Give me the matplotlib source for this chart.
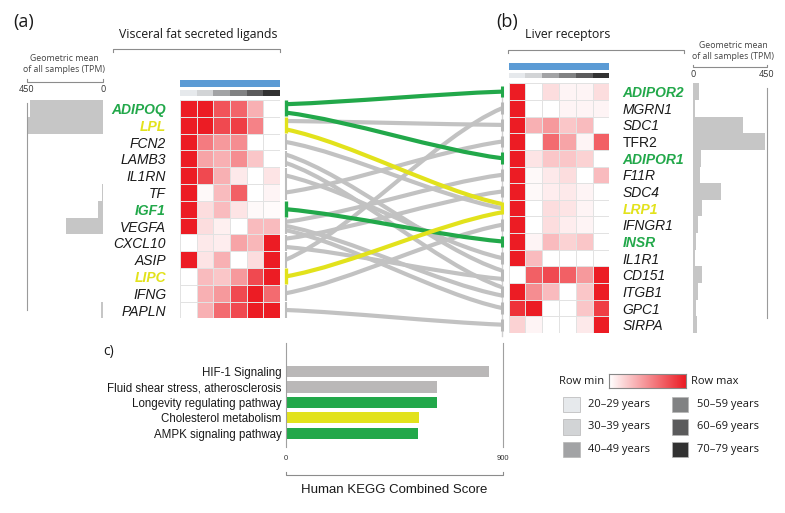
import numpy as np
import matplotlib
matplotlib.use('Agg')
import matplotlib.pyplot as plt
from matplotlib.colors import LinearSegmentedColormap, ListedColormap
from matplotlib.path import Path
from matplotlib.patches import PathPatch, Rectangle
from matplotlib.lines import Line2D

plt.rcParams['font.family'] = ['Liberation Sans', 'DejaVu Sans']

# ---------------- data ----------------
ligands = ['ADIPOQ', 'LPL', 'FCN2', 'LAMB3', 'IL1RN', 'TF', 'IGF1', 'VEGFA',
           'CXCL10', 'ASIP', 'LIPC', 'IFNG', 'PAPLN']
receptors = ['ADIPOR2', 'MGRN1', 'SDC1', 'TFR2', 'ADIPOR1', 'F11R', 'SDC4', 'LRP1',
             'IFNGR1', 'INSR', 'IL1R1', 'CD151', 'ITGB1', 'GPC1', 'SIRPA']

ligand_heat = [
    [1, 1, 0.75, 0.68, 0.35, 0],
    [1, 1, 0.8, 0.85, 0.55, 0],
    [1, 0.58, 0.45, 0.5, 0, 0],
    [1, 0.4, 0.35, 0.5, 0.25, 0],
    [1, 0.8, 0.35, 0.1, 0, 0.12],
    [1, 0.03, 0.3, 0.7, 0, 0.05],
    [1, 0.15, 0.3, 0.12, 0.03, 0.02],
    [1, 0.15, 0.07, 0, 0.3, 0.3],
    [0, 0.1, 0.08, 0.4, 0.32, 1],
    [1, 0.12, 0.35, 0, 0.15, 1],
    [0, 0.3, 0.25, 0.45, 0.8, 1],
    [0, 0.35, 0.45, 0.8, 1, 0.65],
    [0, 0.35, 0.65, 0.8, 1, 1],
]
receptor_heat = [
    [1, 0, 0.15, 0.05, 0.05, 0.15],
    [1, 0, 0, 0.05, 0.05, 0.05],
    [1, 0.35, 0.45, 0.25, 0.3, 0],
    [1, 0, 0.65, 0.4, 0.05, 0.7],
    [1, 0.12, 0.25, 0.25, 0.2, 0],
    [1, 0.03, 0.1, 0.15, 0, 0.3],
    [1, 0.03, 0.08, 0.1, 0.05, 0],
    [1, 0, 0.15, 0.12, 0.05, 0],
    [1, 0, 0.15, 0.08, 0.05, 0],
    [1, 0.05, 0.3, 0.2, 0.25, 0],
    [1, 0.3, 0, 0, 0, 0],
    [0, 0.7, 0.8, 0.7, 0.45, 1],
    [1, 0.5, 0.3, 0, 0.25, 1],
    [0.9, 1, 0, 0, 0.25, 0.85],
    [0.2, 0.05, 0, 0, 0.1, 1],
]

ligand_tpm = [432, 450, 0, 0, 0, 8, 30, 220, 0, 0, 0, 0, 14]
receptor_tpm = [36, 12, 304, 438, 49, 43, 170, 55, 30, 18, 12, 53, 28, 16, 22]

pairs = [('ADIPOQ', 'ADIPOR2'), ('ADIPOQ', 'ADIPOR1'), ('LPL', 'SDC1'), ('LPL', 'LRP1'),
         ('FCN2', 'LRP1'), ('LAMB3', 'CD151'), ('LAMB3', 'ITGB1'), ('IL1RN', 'IL1R1'),
         ('TF', 'TFR2'), ('IGF1', 'INSR'), ('VEGFA', 'F11R'), ('VEGFA', 'ITGB1'),
         ('VEGFA', 'GPC1'), ('CXCL10', 'SDC4'), ('CXCL10', 'CD151'), ('ASIP', 'MGRN1'),
         ('LIPC', 'LRP1'), ('IFNG', 'IFNGR1'), ('PAPLN', 'SIRPA')]

age_groups = ['20\u201329 years', '30\u201339 years', '40\u201349 years',
              '50\u201359 years', '60\u201369 years', '70\u201379 years']

kegg_terms = ['HIF-1 Signaling', 'Fluid shear stress, atherosclerosis',
              'Longevity regulating pathway', 'Cholesterol metabolism', 'AMPK signaling pathway']
kegg_scores = [842, 627, 625, 550, 547]

GREEN = '#22a84a'
YELLOW = '#e2e21c'
GRAY = '#c2c2c2'
highlight = {'ADIPOQ': GREEN, 'LPL': YELLOW, 'IGF1': GREEN, 'LIPC': YELLOW,
             'ADIPOR2': GREEN, 'ADIPOR1': GREEN, 'LRP1': YELLOW, 'INSR': GREEN}
kegg_colors = ['#bab8b8', '#bab8b8', GREEN, YELLOW, GREEN]
age_colors = ['#e6e9ec', '#d2d4d6', '#a2a3a5', '#818283', '#5b5b5c', '#323232']

# ---------------- layout helpers ----------------
W, H = 785, 513
fig = plt.figure(figsize=(W / 100, H / 100), dpi=100)


def box(x0, y0, x1, y1):
    return [x0 / W, 1 - y1 / H, (x1 - x0) / W, (y1 - y0) / H]


def ftext(x, y, s, **kw):
    fig.text(x / W, 1 - y / H, s, **kw)


def bracket(x0, x1, y, d):
    xs = [x0 / W, x0 / W, x1 / W, x1 / W]
    ys = [1 - (y + d) / H, 1 - y / H, 1 - y / H, 1 - (y + d) / H]
    fig.add_artist(Line2D(xs, ys, color='#8c8c8c', lw=0.8))


cmap = LinearSegmentedColormap.from_list('rowscale', ['#ffffff', '#ec1c24'])
SANS = ['Open Sans', 'DejaVu Sans']


def heatmap(rect, data, labels, right):
    ax = fig.add_axes(rect)
    ax.pcolormesh(np.array(data), cmap=cmap, vmin=0, vmax=1,
                  edgecolors='#e2e2e2', linewidth=0.5)
    ax.set_xlim(0, 6)
    ax.set_ylim(len(labels), 0)
    ax.set_xticks([])
    ax.set_yticks(np.arange(len(labels)) + 0.5, labels)
    if right:
        ax.yaxis.tick_right()
    ax.tick_params(axis='y', length=0, pad=9.5 if right else 10, labelsize=10)
    for lab in ax.get_yticklabels():
        name = lab.get_text()
        lab.set_style('normal' if name == 'TFR2' else 'italic')
        if name in highlight:
            lab.set_color(highlight[name])
            lab.set_fontweight('bold')
        else:
            lab.set_color('#1a1a1a')
    for sp in ax.spines.values():
        sp.set_visible(False)
    return ax


def header(x0, x1, yb0, yb1, ya0, ya1):
    fig.add_artist(Rectangle((x0 / W, 1 - yb1 / H), (x1 - x0) / W, (yb1 - yb0) / H,
                             transform=fig.transFigure, color='#5b9bd5', lw=0))
    axa = fig.add_axes(box(x0, ya0, x1, ya1))
    axa.pcolormesh(np.arange(6).reshape(1, 6), cmap=ListedColormap(age_colors),
                   vmin=-0.5, vmax=5.5)
    axa.axis('off')


# ---------------- heatmaps ----------------
axL = heatmap(box(180, 100, 280, 318.4), ligand_heat, ligands, right=False)
axR = heatmap(box(508.5, 83.3, 609.3, 333), receptor_heat, receptors, right=True)
header(180, 280, 80, 87.3, 90, 96.3)
header(508.5, 609.3, 63.3, 70, 73, 78.3)

# ---------------- TPM bar charts ----------------
bL = fig.add_axes(box(27, 100, 103, 318.4))
bL.barh(np.arange(len(ligands)) + 0.5, ligand_tpm, height=1.0, color='#c6c6c6')
bL.set_xlim(450, 0)
bL.set_ylim(len(ligands), 0)
bL.axvline(450, ymin=0.04, ymax=0.986, color='#9a9a9a', lw=0.8, clip_on=False)
bL.axis('off')

bR = fig.add_axes(box(693, 83.3, 767, 333))
bR.barh(np.arange(len(receptors)) + 0.5, receptor_tpm, height=1.0, color='#c6c6c6')
bR.set_xlim(0, 450)
bR.set_ylim(len(receptors), 0)
bR.axvline(450, ymin=0.06, ymax=0.98, color='#9a9a9a', lw=0.8, clip_on=False)
bR.axis('off')

# ---------------- connections ----------------
cx = fig.add_axes(box(286, 60, 502, 345))
cx.set_xlim(0, 1)
cx.set_ylim(0, 1)
cx.axis('off')
inv = cx.transData.inverted()


def to_conn(ax, row):
    disp = ax.transData.transform((0, row))
    return inv.transform(disp)[1]


def spread(n):
    return np.linspace(-0.25, 0.25, n) if n > 1 else np.zeros(1)


lig_off, rec_off = {}, {}
for name in ligands:
    outs = sorted([p for p in pairs if p[0] == name], key=lambda p: receptors.index(p[1]))
    for p, o in zip(outs, spread(len(outs))):
        lig_off[p] = o
for name in receptors:
    ins = sorted([p for p in pairs if p[1] == name], key=lambda p: ligands.index(p[0]))
    for p, o in zip(ins, spread(len(ins))):
        rec_off[p] = o


def pair_color(p):
    if p[0] in highlight and p[1] in highlight:
        return highlight[p[0]]
    return GRAY


order = sorted(pairs, key=lambda p: pair_color(p) != GRAY)
for p in order:
    y0 = to_conn(axL, ligands.index(p[0]) + 0.5 + lig_off[p])
    y1 = to_conn(axR, receptors.index(p[1]) + 0.5 + rec_off[p])
    dy = y1 - y0
    path = Path([(0, y0), (0.3, y0 + 0.18 * dy), (0.7, y1 - 0.18 * dy), (1, y1)],
                [Path.MOVETO, Path.CURVE4, Path.CURVE4, Path.CURVE4])
    cx.add_patch(PathPatch(path, fc='none', ec=pair_color(p), lw=3.0,
                           capstyle='butt', clip_on=False))

for i, name in enumerate(ligands):
    c = highlight.get(name, '#bdbdbd')
    cx.plot([0, 0], [to_conn(axL, i + 0.02), to_conn(axL, i + 0.98)], color=c,
            lw=2.4 if name in highlight else 1.5, solid_capstyle='butt', clip_on=False)
cx.plot([1, 1], [to_conn(axR, 0.3), to_conn(axR, 15.2)], color='#d0d0d0', lw=1.0, clip_on=False)
for i, name in enumerate(receptors):
    c = highlight.get(name, '#b8b8b8')
    cx.plot([1, 1], [to_conn(axR, i + 0.15), to_conn(axR, i + 0.85)], color=c,
            lw=2.2, solid_capstyle='butt', clip_on=False)

# ---------------- panel c ----------------
kx = fig.add_axes(box(286, 343, 503, 447))
kx.barh(np.arange(len(kegg_terms)), kegg_scores, height=0.72, color=kegg_colors)
kx.set_xlim(0, 900)
kx.set_ylim(4.9, -1.86)
kx.set_yticks(np.arange(len(kegg_terms)), kegg_terms)
kx.set_xticks([0, 900], ['0', '900'])
kx.tick_params(axis='y', length=0, pad=3, labelsize=8.3, labelcolor='#1a1a1a')
kx.tick_params(axis='x', length=0, pad=6, labelsize=5.5, labelcolor='#333333')
for s in ['top', 'right', 'bottom']:
    kx.spines[s].set_visible(False)
kx.spines['left'].set_color('#a0a0a0')
kx.spines['left'].set_linewidth(0.8)
kx.axvline(900, color='#a0a0a0', lw=0.8, clip_on=False)
bracket(286, 503, 475, -3)
ftext(394, 490, 'Human KEGG Combined Score', ha='center', va='center',
      fontsize=9.5, color='#1a1a1a')
ftext(103, 352, 'c)', ha='left', va='center', fontsize=10, family=SANS, color='#1a1a1a')

# ---------------- titles and annotations ----------------
ftext(13, 22, '(a)', fontsize=13, family=SANS, va='center', color='#1a1a1a')
ftext(496, 22, '(b)', fontsize=13, family=SANS, va='center', color='#1a1a1a')
ftext(198, 35, 'Visceral fat secreted ligands', fontsize=8.8, family=SANS,
      ha='center', va='center', color='#1a1a1a')
bracket(113, 280, 49, 3)
ftext(568, 35, 'Liver receptors', fontsize=8.8, family=SANS,
      ha='center', va='center', color='#1a1a1a')
bracket(508, 684, 50, 3)

ftext(64, 64, 'Geometric mean\nof all samples (TPM)', fontsize=6.3, family=SANS,
      ha='center', va='center', color='#444444', linespacing=1.3)
bracket(27, 103, 81.5, -2.5)
ftext(27, 89.5, '450', fontsize=6.5, family=SANS, ha='center', va='center', color='#333333')
ftext(103, 89.5, '0', fontsize=6.5, family=SANS, ha='center', va='center', color='#333333')

ftext(733, 51, 'Geometric mean\nof all samples (TPM)', fontsize=6.3, family=SANS,
      ha='center', va='center', color='#444444', linespacing=1.3)
bracket(693, 767, 67, -2.5)
ftext(693, 75, '0', fontsize=6.5, family=SANS, ha='center', va='center', color='#333333')
ftext(767, 75, '450', fontsize=6.5, family=SANS, ha='center', va='center', color='#333333')

# ---------------- legend ----------------
gx = fig.add_axes(box(609, 373.7, 686, 388.3))
gx.imshow(np.linspace(0, 1, 100).reshape(1, -1), cmap=cmap, aspect='auto')
gx.set_xticks([])
gx.set_yticks([])
for sp in gx.spines.values():
    sp.set_color('#888888')
    sp.set_linewidth(0.8)
ftext(604, 381, 'Row min', fontsize=8, family=SANS, ha='right', va='center', color='#1a1a1a')
ftext(691, 381, 'Row max', fontsize=8, family=SANS, ha='left', va='center', color='#1a1a1a')

lx = fig.add_axes([0, 0, 1, 1], facecolor='none')
lx.set_xlim(0, W)
lx.set_ylim(H, 0)
lx.axis('off')
for k, (lab, col) in enumerate(zip(age_groups, age_colors)):
    colx = 563.3 if k < 3 else 671.7
    rowy = [396.7, 419, 441.7][k % 3]
    lx.add_patch(Rectangle((colx, rowy), 16.7, 15.5, fc=col, ec='#b5b5b5', lw=0.5))
    lx.text(colx + 25, rowy + 8, lab, fontsize=8, family=SANS, va='center', color='#1a1a1a')

fig.savefig('out.png', dpi=100)
